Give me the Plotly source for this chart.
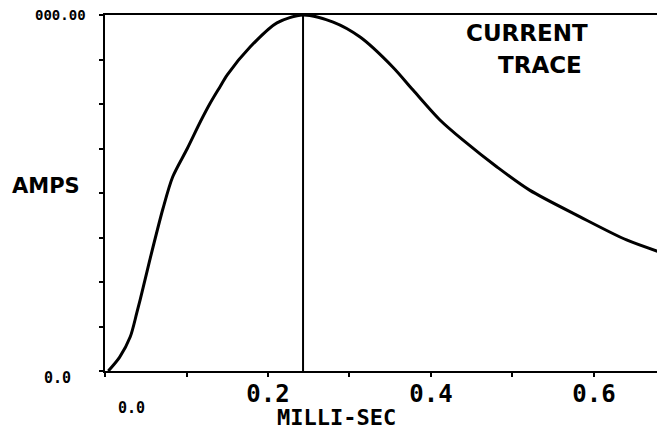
import plotly.graph_objects as go

# current trace (time in ms, current normalised to peak)
time_ms = [0.004, 0.018, 0.031, 0.039, 0.047, 0.055, 0.071, 0.083, 0.101, 0.117,
           0.129, 0.141, 0.150, 0.178, 0.211, 0.243, 0.280, 0.313, 0.353, 0.378,
           0.411, 0.439, 0.481, 0.521, 0.583, 0.640, 0.681]
amps = [0.0, 0.039, 0.096, 0.163, 0.236, 0.312, 0.455, 0.545, 0.625, 0.700,
        0.752, 0.798, 0.832, 0.910, 0.978, 1.0, 0.980, 0.938, 0.854, 0.789,
        0.705, 0.649, 0.573, 0.508, 0.433, 0.368, 0.334]

peak_time = 0.243
x_ticks = [0.0, 0.1, 0.2, 0.3, 0.4, 0.5, 0.6]
x_ticktext = ["", "", "0.2", "", "0.4", "", "0.6"]
y_ticks = [0, 0.125, 0.25, 0.375, 0.5, 0.625, 0.75, 0.875, 1.0]
y_min_label = "0.0"
y_max_label = "000.00"

mono = "DejaVu Sans Mono"
sans = "DejaVu Sans"

fig = go.Figure()
fig.add_trace(go.Scatter(x=time_ms, y=amps, mode="lines",
                         line=dict(color="black", width=3, shape="spline", smoothing=0.8),
                         showlegend=False))
fig.add_vline(x=peak_time, line=dict(color="black", width=2))

fig.update_xaxes(range=[0, 0.681], tickvals=x_ticks, ticktext=x_ticktext,
                 ticks="outside", ticklen=4, tickwidth=2, tickcolor="black",
                 ticklabelstandoff=-4,
                 showline=True, linecolor="black", linewidth=2, mirror=True,
                 showgrid=False, zeroline=False,
                 tickfont=dict(family=mono, size=24, color="black", weight="bold"))
fig.update_yaxes(range=[0, 1.0], tickvals=y_ticks, showticklabels=False,
                 ticks="outside", ticklen=4, tickwidth=2, tickcolor="black",
                 showline=True, linecolor="black", linewidth=2, mirror=True,
                 showgrid=False, zeroline=False)

labels = [
    dict(x=0, y=0, text=y_min_label, xshift=-48, yshift=-7,
         font=dict(family=mono, size=15, color="black", weight="bold")),
    dict(x=0, y=1.0, text=y_max_label, xshift=-45, yshift=0,
         font=dict(family=mono, size=14, color="black", weight="bold")),
    dict(x=0, y=0, text="0.0", xshift=26, yshift=-37,
         font=dict(family=mono, size=15, color="black", weight="bold")),
    dict(x=0, y=0.52, text="AMPS", xshift=-59,
         font=dict(family=sans, size=21, color="black", weight="bold")),
    dict(x=0.284, y=0, text="MILLI-SEC", yshift=-46,
         font=dict(family=mono, size=22, color="black", weight="bold")),
    dict(x=0.518, y=0.949, text="CURRENT",
         font=dict(family=sans, size=23, color="black", weight="bold")),
    dict(x=0.534, y=0.86, text="TRACE",
         font=dict(family=sans, size=23, color="black", weight="bold")),
]
for a in labels:
    fig.add_annotation(xref="x", yref="y", showarrow=False, **a)

# the page body adds an 8px margin, so the figure is sized to fit inside it
fig.update_layout(width=657, height=429,
                  margin=dict(l=97, r=5, t=7, b=66, autoexpand=False),
                  paper_bgcolor="white", plot_bgcolor="white")

fig.write_html("out.html")
